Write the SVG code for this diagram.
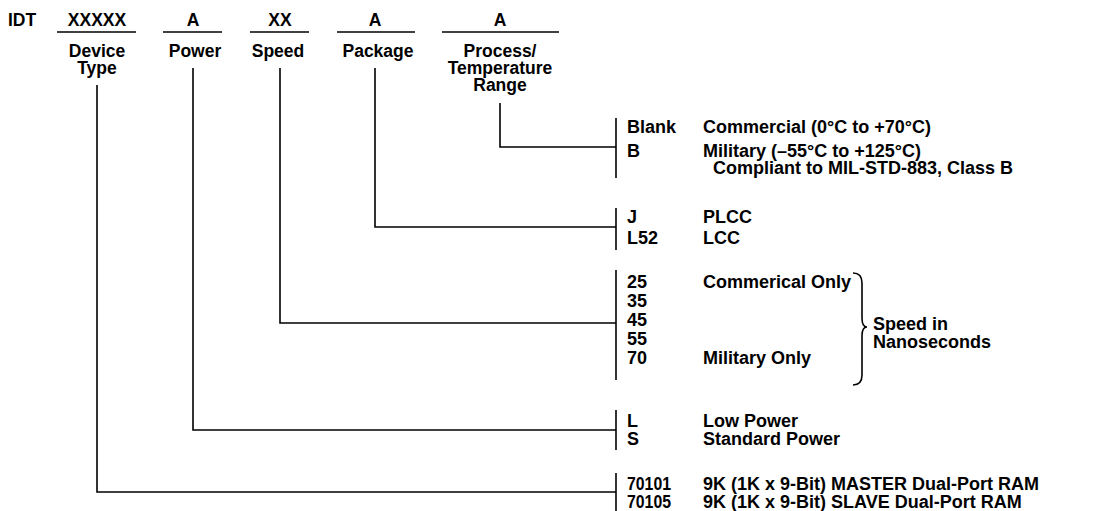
<svg xmlns="http://www.w3.org/2000/svg" width="1107" height="511" viewBox="0 0 1107 511">
<style>
text{font-family:"Liberation Sans",Arial,sans-serif;font-size:18px;font-weight:bold;fill:#000}
.t{font-size:17.5px}
.c{text-anchor:middle}
.u,.bar,.con{stroke:#000;stroke-width:1.6;fill:none}
</style>
<rect width="1107" height="511" fill="#fff"/>
<g id="idt"><text class="t" x="8" y="26">IDT</text></g>
<g id="device-type">
<text class="t c" x="97" y="26">XXXXX</text>
<line class="u" x1="57" y1="32" x2="136" y2="32"/>
<text class="t c" x="97" y="57">Device</text>
<text class="t c" x="97" y="74">Type</text>
</g>
<g id="power">
<text class="t c" x="193" y="26">A</text>
<line class="u" x1="163" y1="32" x2="222" y2="32"/>
<text class="t c" x="195" y="57">Power</text>
</g>
<g id="speed">
<text class="t c" x="280" y="26">XX</text>
<line class="u" x1="250" y1="32" x2="309" y2="32"/>
<text class="t c" x="278" y="57">Speed</text>
</g>
<g id="package">
<text class="t c" x="375" y="26">A</text>
<line class="u" x1="337" y1="32" x2="415" y2="32"/>
<text class="t c" x="378" y="57">Package</text>
</g>
<g id="process">
<text class="t c" x="500" y="26">A</text>
<line class="u" x1="442" y1="32" x2="559" y2="32"/>
<text class="t c" x="500" y="57">Process/</text>
<text class="t c" x="500" y="74">Temperature</text>
<text class="t c" x="500" y="91">Range</text>
</g>
<g id="connectors">
<polyline class="con" points="500,103 500,147 616,147"/>
<polyline class="con" points="375,68 375,227 616,227"/>
<polyline class="con" points="280,68 280,323 616,323"/>
<polyline class="con" points="193,68 193,430 616,430"/>
<polyline class="con" points="97,85 97,492 616,492"/>
</g>
<g id="opt-process">
<line class="bar" x1="616" y1="118" x2="616" y2="178"/>
<text x="627" y="133">Blank</text>
<text x="703" y="133">Commercial (0°C to +70°C)</text>
<text x="627" y="157">B</text>
<text x="703" y="157">Military (–55°C to +125°C)</text>
<text x="713" y="174">Compliant to MIL-STD-883, Class B</text>
</g>
<g id="opt-package">
<line class="bar" x1="616" y1="208" x2="616" y2="250"/>
<text x="627" y="223">J</text>
<text x="703" y="223">PLCC</text>
<text x="627" y="244">L52</text>
<text x="703" y="244">LCC</text>
</g>
<g id="opt-speed">
<line class="bar" x1="616" y1="270" x2="616" y2="380"/>
<text x="627" y="288">25</text>
<text x="703" y="288">Commerical Only</text>
<text x="627" y="307">35</text>
<text x="627" y="326">45</text>
<text x="627" y="345">55</text>
<text x="627" y="364">70</text>
<text x="703" y="364">Military Only</text>
<path class="bar" d="M853 273 Q862 273 862 283 L862 318 Q862 327 867 327 Q862 327 862 336 L862 375 Q862 385 853 385"/>
<text x="873" y="330">Speed in</text>
<text x="873" y="348">Nanoseconds</text>
</g>
<g id="opt-power">
<line class="bar" x1="616" y1="410" x2="616" y2="450"/>
<text x="627" y="427">L</text>
<text x="703" y="427">Low Power</text>
<text x="627" y="445">S</text>
<text x="703" y="445">Standard Power</text>
</g>
<g id="opt-device">
<line class="bar" x1="616" y1="473" x2="616" y2="511"/>
<text x="627" y="490" textLength="44" lengthAdjust="spacingAndGlyphs">70101</text>
<text x="703" y="490">9K (1K x 9-Bit) MASTER Dual-Port RAM</text>
<text x="627" y="508" textLength="44" lengthAdjust="spacingAndGlyphs">70105</text>
<text x="703" y="508">9K (1K x 9-Bit) SLAVE Dual-Port RAM</text>
</g>
</svg>
